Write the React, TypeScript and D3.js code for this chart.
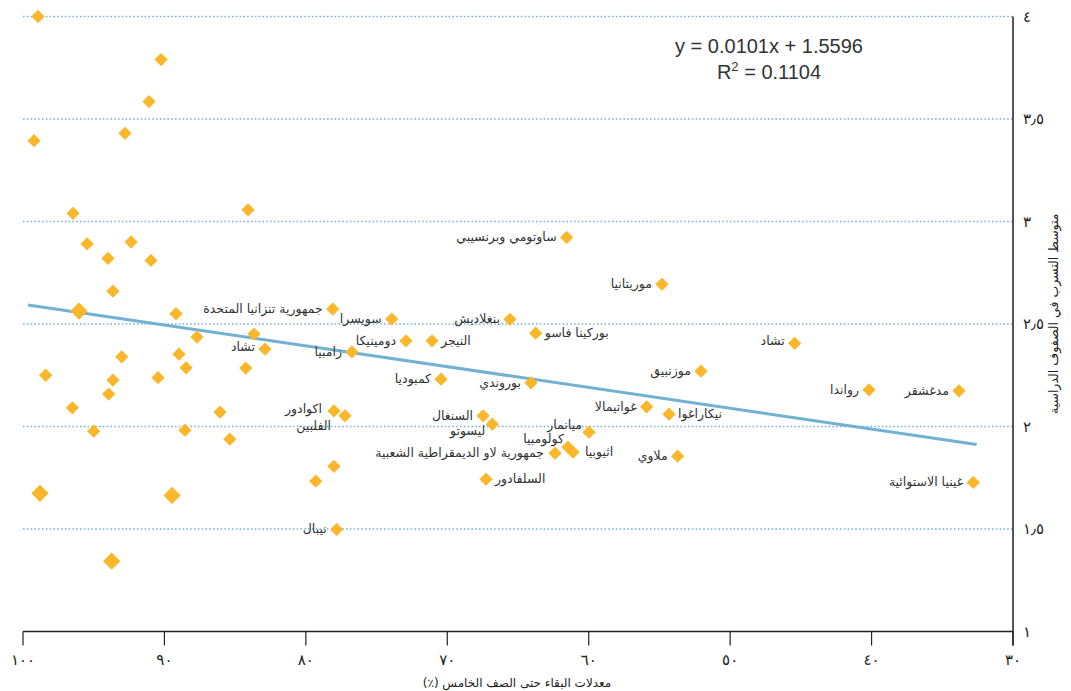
import * as d3 from "d3";

const width = 1071;
const height = 691;

// axis ticks
const xTicks = [100, 90, 80, 70, 60, 50, 40, 30];
const xTickLabels = ["١٠٠", "٩٠", "٨٠", "٧٠", "٦٠", "٥٠", "٤٠", "٣٠"];
const yTicks = [1, 1.5, 2, 2.5, 3, 3.5, 4];
const yTickLabels = ["١", "١٫٥", "٢", "٢٫٥", "٣", "٣٫٥", "٤"];

// countries without a label [survival %, avg repetition]
// (a repeated pair means two countries on the same spot)
const otherPoints = [
  [98.94, 4.0], [90.24, 3.79], [91.09, 3.585], [92.79, 3.43], [99.22, 3.394],
  [96.46, 3.04], [84.09, 3.057], [95.47, 2.891], [92.36, 2.9], [93.99, 2.82],
  [90.95, 2.81], [93.64, 2.66], [96.04, 2.563], [96.04, 2.563], [89.18, 2.55],
  [87.7, 2.436], [83.67, 2.451], [84.25, 2.285], [93.02, 2.34], [88.97, 2.353],
  [88.47, 2.286], [98.4, 2.25], [93.64, 2.226], [90.45, 2.238], [93.94, 2.158],
  [96.51, 2.091], [86.07, 2.07], [95.0, 1.977], [88.55, 1.982], [85.38, 1.938],
  [98.8, 1.674], [98.8, 1.674], [89.46, 1.664], [89.46, 1.664],
  [93.73, 1.343], [93.73, 1.343], [79.3, 1.733], [78.01, 1.806],
];

// labelled countries [name, survival %, avg repetition]
const countries = [
  ["تشاد", 82.89, 2.378],
  ["زامبيا", 76.74, 2.364],
  ["جمهورية تنزانيا المتحدة", 78.1, 2.573],
  ["سويسرا", 73.93, 2.524],
  ["دومينيكا", 72.92, 2.418],
  ["النيجر", 71.08, 2.418],
  ["اكوادور", 78.01, 2.076],
  ["الفلبين", 77.23, 2.052],
  ["نيبال", 77.82, 1.498],
  ["كمبوديا", 70.44, 2.231],
  ["ساوتومي وبرنسيبي", 61.56, 2.922],
  ["موريتانيا", 54.82, 2.694],
  ["بنغلاديش", 65.57, 2.523],
  ["بوركينا فاسو", 63.75, 2.455],
  ["بوروندي", 64.08, 2.213],
  ["موزنبيق", 52.06, 2.27],
  ["تشاد ", 45.44, 2.406],
  ["رواندا", 40.18, 2.179],
  ["مدغشقر", 33.82, 2.174],
  ["غواتيمالا", 55.9, 2.096],
  ["نيكاراغوا", 54.32, 2.06],
  ["السنغال", 67.47, 2.052],
  ["ليسوتو", 66.82, 2.011],
  ["ميانمار", 59.98, 1.972],
  ["كولومبيا", 61.47, 1.899],
  ["اثيوبيا", 61.11, 1.875],
  ["جمهورية لاو الديمقراطية الشعبية", 62.38, 1.87],
  ["ملاوي", 53.71, 1.855],
  ["السلفادور", 67.26, 1.743],
  ["غينيا الاستوائية", 32.81, 1.727],
];

// trend line ends as drawn
const trendX = [99.65, 32.57];
const trendY = [2.593, 1.912];

const equation = "y = 0.0101x + 1.5596";
const rSquared = "0.1104";

// label placement: [anchor, dx, dy]
const labelLayout = {
  "النيجر": ["start", 9, 0],
  "بوركينا فاسو": ["start", 9, 0],
  "نيكاراغوا": ["start", 9, 0],
  "السلفادور": ["start", 9, 0],
  "اثيوبيا": ["start", 12, 0],
  "كولومبيا": ["end", -4, -8],
  "ميانمار": ["end", -7, -7],
  "الفلبين": ["end", -14, 10],
  "اكوادور": ["end", -12, -2],
  "ليسوتو": ["end", -7, 7],
  "تشاد": ["end", -10, -2],
  "جمهورية لاو الديمقراطية الشعبية": ["end", -11, 0],
};

const arabicFont = "'DejaVu Sans', 'Noto Sans', sans-serif";

export default function App() {
  const x = d3.scaleLinear().domain([100, 30]).range([23, 1013]);
  const y = d3.scaleLinear().domain([1, 4]).range([631.5, 16.5]);

  const counts = d3.rollups(otherPoints, v => v.length, d => d.join(","));
  const diamond = (n) => d3.symbol(d3.symbolSquare, n > 1 ? 150 : 88)();

  const trend = d3.line().x(d => x(d[0])).y(d => y(d[1]))(
    trendX.map((v, i) => [v, trendY[i]])
  );

  const axisY = y(1);
  const right = x(30);

  return (
    <svg width={width} height={height} style={{ position: "absolute", left: 0, top: 0, background: "#fff" }}>
      {/* gridlines */}
      {yTicks.filter(t => t > 1).map(t => (
        <line key={t} x1={x(100)} x2={right} y1={y(t)} y2={y(t)}
          stroke="#76b4d8" strokeWidth={1.4} strokeDasharray="1.6,2.2" />
      ))}

      {/* trend line */}
      <path d={trend} fill="none" stroke="#72b1d1" strokeWidth={3} />

      {/* points */}
      {counts.map(([k, n]) => {
        const [px, py] = k.split(",").map(Number);
        return (
          <path key={k} d={diamond(n)} fill="#fbb72b"
            transform={`translate(${x(px)},${y(py)}) rotate(45)`} />
        );
      })}
      {countries.map(([name, px, py]) => (
        <path key={name} d={diamond(1)} fill="#fbb72b"
          transform={`translate(${x(px)},${y(py)}) rotate(45)`} />
      ))}
      {countries.map(([name, px, py]) => {
        const [anchor, dx, dy] = labelLayout[name.trim()] || ["end", -10, 0];
        return (
          <text key={"l" + name} x={x(px) + dx} y={y(py) + dy + 4}
            textAnchor={anchor} fontSize={12.5} fill="#333" fontFamily={arabicFont}>
            {name.trim()}
          </text>
        );
      })}

      {/* axes */}
      <line x1={x(100)} x2={right} y1={axisY} y2={axisY} stroke="#222" strokeWidth={1.5} />
      <line x1={right} x2={right} y1={y(4)} y2={axisY + 14} stroke="#222" strokeWidth={1.5} />
      {xTicks.map((t, i) => (
        <g key={t}>
          <line x1={x(t)} x2={x(t)} y1={axisY} y2={axisY + 14} stroke="#222" strokeWidth={1.2} />
          <text x={x(t)} y={axisY + 33} textAnchor="middle" fontSize={15} fill="#222" fontFamily={arabicFont}>
            {xTickLabels[i]}
          </text>
        </g>
      ))}
      {yTicks.map((t, i) => (
        <text key={t} x={right + 10} y={y(t) + 5} textAnchor="start" fontSize={15} fill="#222" fontFamily={arabicFont}>
          {yTickLabels[i]}
        </text>
      ))}

      {/* axis titles */}
      <text x={517} y={687} textAnchor="middle" direction="rtl" fontSize={12} fill="#222" fontFamily={arabicFont}>
        معدلات البقاء حتى الصف الخامس (٪)
      </text>
      <text transform={`translate(1058,${y(2.55)}) rotate(-90)`} textAnchor="middle" direction="rtl"
        fontSize={12.5} fill="#222" fontFamily={arabicFont}>
        متوسط التسرب في الصفوف الدراسية
      </text>

      {/* regression equation */}
      <g fontFamily="'Liberation Sans', Arial, sans-serif" fontSize={20} fill="#333" textAnchor="middle">
        <text x={769} y={53}>{equation}</text>
        <text x={769} y={79}>
          R<tspan fontSize={13} dy={-8}>2</tspan><tspan dy={8}> = {rSquared}</tspan>
        </text>
      </g>
    </svg>
  );
}
